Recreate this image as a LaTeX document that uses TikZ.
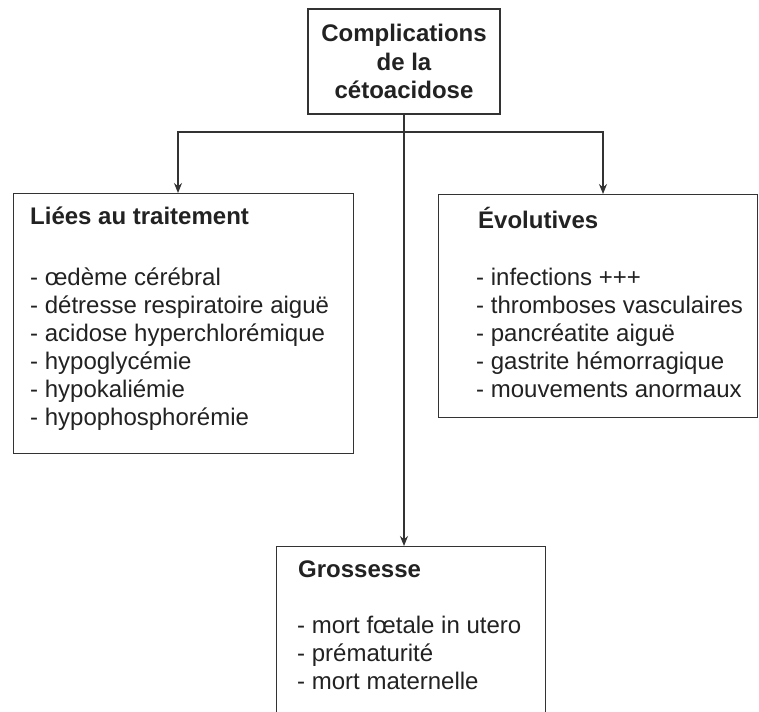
\documentclass[tikz,border=0pt]{standalone}
\usepackage{fontspec}
\setmainfont{Liberation Sans}
\usetikzlibrary{arrows.meta}
\definecolor{ink}{HTML}{222222}
\definecolor{edge}{HTML}{333333}
\begin{document}
\begin{tikzpicture}[x=1pt,y=-1pt,
  box/.style={draw=edge, line width=1.3pt, rectangle, inner sep=0pt, anchor=north west},
  ttl/.style={anchor=base west, inner sep=0pt, text=ink, font=\fontsize{24}{27}\selectfont\bfseries},
  itm/.style={anchor=base west, inner sep=0pt, text=ink, font=\fontsize{24}{27}\selectfont},
  conn/.style={draw=edge, line width=1.3pt},
  arr/.style={conn, -{Stealth[length=10pt,width=8pt]}}]
\useasboundingbox (0,0) rectangle (759,711);
\fill[white] (0,0) rectangle (759,711);
\clip (0,0) rectangle (759,711);

% boxes
\node[box, anchor=center, minimum width=192pt, minimum height=105pt, align=center,
      text=ink, font=\fontsize{24}{28.5}\selectfont\bfseries] (top) at (404,61.5)
      {Complications\\de la\\cétoacidose};
\node[box, minimum width=340pt, minimum height=260pt] (lft) at (13,193) {};
\node[box, minimum width=319pt, minimum height=223pt] (rgt) at (438,194) {};
\node[box, minimum width=269pt, minimum height=200pt] (bot) at (276,546) {};

% left box text
\node[ttl] (lt) at (30,225) {Liées au traitement};
\foreach \t [count=\i from 0] in {œdème cérébral, détresse respiratoire aiguë,
    acidose hyperchlorémique, hypoglycémie, hypokaliémie, hypophosphorémie}
  \node[itm] (l\i) at (30,{285+28*\i}) {- \t};

% right box text
\node[ttl] (rt) at (478,228) {Évolutives};
\foreach \t [count=\i from 0] in {infections +++, thromboses vasculaires,
    pancréatite aiguë, gastrite hémorragique, mouvements anormaux}
  \node[itm] (r\i) at (476,{285+28*\i}) {- \t};

% bottom box text
\node[ttl] (bt) at (298,577) {Grossesse};
\foreach \t [count=\i from 0] in {mort fœtale in utero, prématurité, mort maternelle}
  \node[itm] (b\i) at (297,{633+28*\i}) {- \t};

% connectors
\coordinate (jl) at (178,132);
\coordinate (jr) at (603,132);
\coordinate (jc) at (top.south |- jl);
\draw[arr] (jc) -- (jl) -- (jl |- lft.north);
\draw[arr] (jc) -- (jr) -- (jr |- rgt.north);
\draw[arr] (top.south) -- (top.south |- bot.north);
\end{tikzpicture}
\end{document}
